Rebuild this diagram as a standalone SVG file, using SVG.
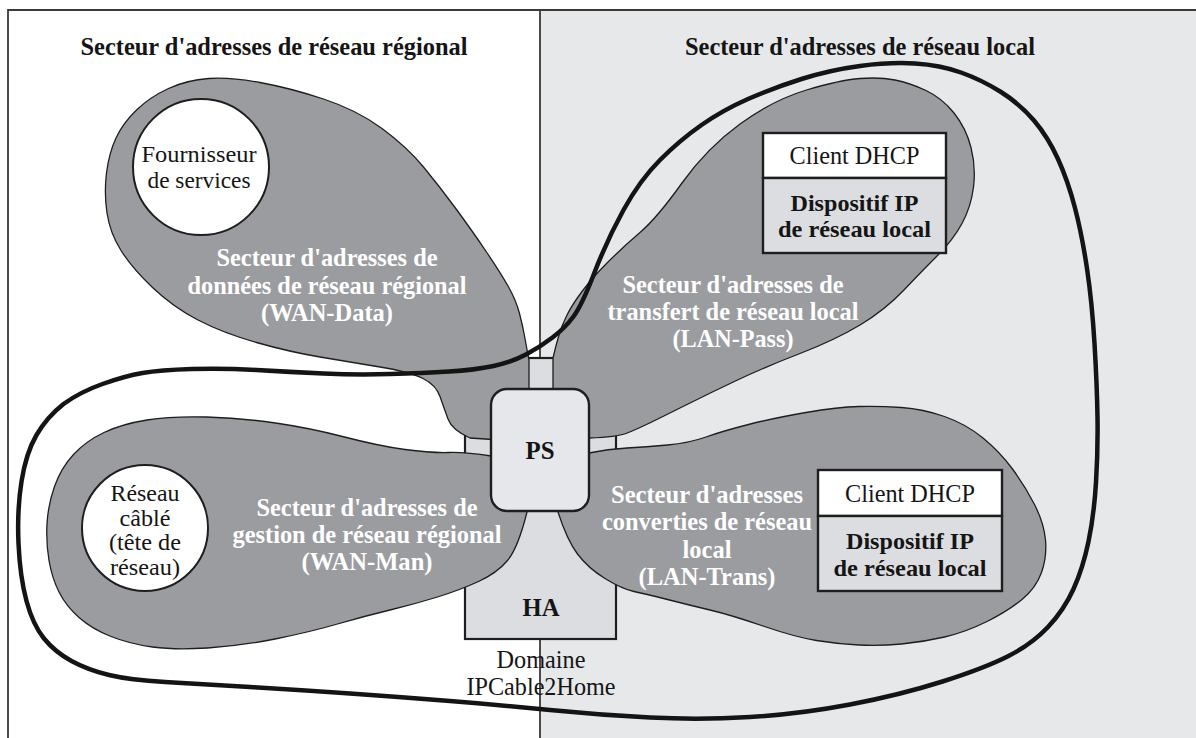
<svg xmlns="http://www.w3.org/2000/svg" width="1196" height="738" viewBox="0 0 1196 738">
<style>
.t{font-family:"Liberation Serif","Times New Roman",serif;font-size:26px;text-anchor:middle;fill:#151515}
.s{font-size:22.5px}
.m{font-size:24px}
.b{font-weight:bold}
.w{fill:#ffffff;font-weight:bold}
.petal{fill:#9b9ca0;stroke:#1e1e1e;stroke-width:1.3}
.ha{fill:#dcdde0;stroke:#1e1e1e;stroke-width:2.2}
.ps{fill:#e6e7ea;stroke:#1e1e1e;stroke-width:2.4}
.circ{fill:#ffffff;stroke:#1e1e1e;stroke-width:2}
.box{stroke:#1e1e1e;stroke-width:2.4}
.loop{fill:none;stroke:#141414;stroke-width:4.5;stroke-linejoin:round}
</style>
<rect x="0" y="0" width="1196" height="738" fill="#ffffff"/>
<rect x="540" y="10" width="660" height="730" fill="#e7e8ea"/>
<path d="M8,738 L8,10 L1196,10 M540,10 L540,738" fill="none" stroke="#3a3a3a" stroke-width="1.8"/>
<text class="t b" x="274" y="55" textLength="387" lengthAdjust="spacingAndGlyphs">Secteur d'adresses de réseau régional</text>
<text class="t b" x="860" y="55" textLength="350" lengthAdjust="spacingAndGlyphs">Secteur d'adresses de réseau local</text>
<g id="domain-label">
<text class="t" x="541" y="668" textLength="89" lengthAdjust="spacingAndGlyphs">Domaine</text>
<text class="t" x="541" y="695" textLength="149" lengthAdjust="spacingAndGlyphs">IPCable2Home</text>
</g>
<g id="HA">
<rect class="ha" x="465" y="358" width="151" height="281"/>
</g>
<g id="wan-data">
<path class="petal" d="M 470,438 Q 452,430 448,419 Q 444,408 440,396.5 Q 436,385 423,378.5 Q 410,372 380,367 Q 350,362 320,357 Q 290,352 256.5,342.5 Q 223,333 198,320 Q 173,307 152.5,287.5 Q 132,268 121,250.5 Q 110,233 107,213 Q 104,193 106.5,173 Q 109,153 116,138 Q 123,123 136.5,110 Q 150,97 168.5,88.5 Q 187,80 208.5,78.5 Q 230,77 260,82.5 Q 290,88 323.5,99 Q 357,110 382,128.5 Q 407,147 423.5,167 Q 440,187 456.5,209.5 Q 473,232 486.5,252 Q 500,272 508,286 Q 516,300 519.5,313.5 Q 523,327 525,338.5 Q 527,350 529,360 L 529,400 L 500,440 Z"/>
<circle class="circ" cx="201" cy="167" r="68"/>
<text class="t m" x="199" y="162" textLength="115" lengthAdjust="spacingAndGlyphs">Fournisseur</text>
<text class="t m" x="199" y="188" textLength="103" lengthAdjust="spacingAndGlyphs">de services</text>
<text class="t w" x="327" y="266" textLength="221" lengthAdjust="spacingAndGlyphs">Secteur d'adresses de</text>
<text class="t w" x="327" y="294" textLength="279" lengthAdjust="spacingAndGlyphs">données de réseau régional</text>
<text class="t w" x="327" y="321" textLength="132" lengthAdjust="spacingAndGlyphs">(WAN-Data)</text>
</g>
<g id="wan-man">
<path class="petal" d="M 491,456 Q 466,452 448.5,452.5 Q 431,453 405,449.5 Q 379,446 344.5,437 Q 310,428 275.5,423 Q 241,418 206.5,417 Q 172,416 147,420 Q 122,424 104,432.5 Q 86,441 73.5,454.5 Q 61,468 54.5,486.5 Q 48,505 47,524 Q 46,543 49,560.5 Q 52,578 59,592 Q 66,606 79,617.5 Q 92,629 111,636.5 Q 130,644 152.5,647 Q 175,650 207.5,648 Q 240,646 275,639 Q 310,632 337.5,624 Q 365,616 390,610 Q 415,604 437.5,597 Q 460,590 478.5,581.5 Q 497,573 507.5,560.5 Q 518,548 527,512 L 530,470 Z"/>
<circle class="circ" cx="145" cy="528" r="63"/>
<text class="t s" x="145" y="501" textLength="69" lengthAdjust="spacingAndGlyphs">Réseau</text>
<text class="t s" x="145" y="525.5" textLength="51" lengthAdjust="spacingAndGlyphs">câblé</text>
<text class="t s" x="145" y="550" textLength="72" lengthAdjust="spacingAndGlyphs">(tête de</text>
<text class="t s" x="145" y="574.5" textLength="70" lengthAdjust="spacingAndGlyphs">réseau)</text>
<text class="t w" x="367" y="516" textLength="221" lengthAdjust="spacingAndGlyphs">Secteur d'adresses de</text>
<text class="t w" x="367" y="543" textLength="269" lengthAdjust="spacingAndGlyphs">gestion de réseau régional</text>
<text class="t w" x="367" y="570" textLength="131" lengthAdjust="spacingAndGlyphs">(WAN-Man)</text>
</g>
<g id="lan-pass">
<path class="petal" d="M 553,392 L 553,358 Q 556,345 559,335 Q 562,325 567,315 Q 572,305 582,291.5 Q 592,278 607.5,262.5 Q 623,247 640,232.5 Q 657,218 682,183 Q 707,148 740,124 Q 773,100 806.5,90 Q 840,80 860,78.5 Q 880,77 895,80 Q 910,83 926,90.5 Q 942,98 954,113 Q 966,128 971,147.5 Q 976,167 973.5,187 Q 971,207 962,223.5 Q 953,240 938,255 Q 923,270 904,290 Q 885,310 860,325 Q 835,340 800,353.5 Q 765,367 737.5,380 Q 710,393 685,405.5 Q 660,418 647.5,424 Q 635,430 626,433.5 Q 617,437 589,438 L 575,420 Z"/>
<text class="t w" x="733" y="293" textLength="221" lengthAdjust="spacingAndGlyphs">Secteur d'adresses de</text>
<text class="t w" x="733" y="320" textLength="251" lengthAdjust="spacingAndGlyphs">transfert de réseau local</text>
<text class="t w" x="733" y="347" textLength="121" lengthAdjust="spacingAndGlyphs">(LAN-Pass)</text>
</g>
<g id="lan-trans">
<path class="petal" d="M 589,453 Q 608,449 627,448 Q 646,447 667.5,445 Q 689,443 706,437 Q 723,431 748.5,424.5 Q 774,418 806,412.5 Q 838,407 859,406.5 Q 880,406 901.5,407.5 Q 923,409 944.5,416.5 Q 966,424 983,438 Q 1000,452 1012.5,469 Q 1025,486 1034.5,504.5 Q 1044,523 1045.5,540 Q 1047,557 1041.5,572.5 Q 1036,588 1022,599.5 Q 1008,611 987,621.5 Q 966,632 944.5,637 Q 923,642 901.5,644 Q 880,646 859,645 Q 838,644 816.5,640.5 Q 795,637 763,626 Q 731,615 710,610 Q 689,605 667.5,599.5 Q 646,594 634,591.5 Q 622,589 605,578.5 Q 588,568 577.5,554 Q 567,540 558,512 L 570,480 Z"/>
<text class="t w" x="707" y="503" textLength="192" lengthAdjust="spacingAndGlyphs">Secteur d'adresses</text>
<text class="t w" x="707" y="530" textLength="210" lengthAdjust="spacingAndGlyphs">converties de réseau</text>
<text class="t w" x="707" y="558" textLength="49" lengthAdjust="spacingAndGlyphs">local</text>
<text class="t w" x="707" y="585" textLength="137" lengthAdjust="spacingAndGlyphs">(LAN-Trans)</text>
</g>
<g id="PS">
<rect class="ps" x="491" y="389" width="98" height="122" rx="16"/>
<text class="t b" x="540" y="459" textLength="29" lengthAdjust="spacingAndGlyphs">PS</text>
</g>
<g id="HA-label">
<text class="t b" x="541" y="616" textLength="37" lengthAdjust="spacingAndGlyphs">HA</text>
</g>
<g id="lan-device-1">
<rect class="box" x="763" y="133" width="183" height="45" fill="#ffffff"/>
<rect class="box" x="763" y="178" width="183" height="75" fill="#dcdde0"/>
<text class="t" x="854.5" y="164" textLength="130" lengthAdjust="spacingAndGlyphs">Client DHCP</text>
<text class="t b m" x="854.5" y="211" textLength="128" lengthAdjust="spacingAndGlyphs">Dispositif IP</text>
<text class="t b m" x="854.5" y="237" textLength="153" lengthAdjust="spacingAndGlyphs">de réseau local</text>
</g>
<g id="lan-device-2">
<rect class="box" x="818" y="470" width="184" height="46" fill="#ffffff"/>
<rect class="box" x="818" y="516" width="184" height="75" fill="#dcdde0"/>
<text class="t" x="910" y="502" textLength="130" lengthAdjust="spacingAndGlyphs">Client DHCP</text>
<text class="t b m" x="910" y="549" textLength="128" lengthAdjust="spacingAndGlyphs">Dispositif IP</text>
<text class="t b m" x="910" y="576" textLength="153" lengthAdjust="spacingAndGlyphs">de réseau local</text>
</g>
<g id="connectors">
<path class="loop" d="M 142.5,373 Q 160,370 191.5,369 Q 223,368 256.5,370 Q 290,372 323.5,373.5 Q 357,375 390,374 Q 423,373 449,371.5 Q 475,370 493.5,366 Q 512,362 526,354.5 Q 540,347 552.5,337.5 Q 565,328 573.5,316.5 Q 582,305 594.5,272.5 Q 607,240 623.5,210 Q 640,180 660,160 Q 680,140 701.5,125 Q 723,110 748,99 Q 773,88 801.5,79 Q 830,70 860,66 Q 890,62 915,63.5 Q 940,65 961,72.5 Q 982,80 1001,92 Q 1020,104 1034,120.5 Q 1048,137 1058,159 Q 1068,181 1075,208 Q 1082,235 1087,268.5 Q 1092,302 1094.5,343.5 Q 1097,385 1097.5,417.5 Q 1098,450 1096,482.5 Q 1094,515 1088.5,541.5 Q 1083,568 1073.5,589 Q 1064,610 1048,627 Q 1032,644 1008.5,656 Q 985,668 942.5,681.5 Q 900,695 850,704.5 Q 800,714 750,717 Q 700,720 650,717.5 Q 600,715 550,710 Q 500,705 450,701 Q 400,697 350,693.5 Q 300,690 250,687 Q 200,684 165,682 Q 130,680 109,675 Q 88,670 71.5,661 Q 55,652 44,638.5 Q 33,625 26.5,601 Q 20,577 18.5,543.5 Q 17,510 21.5,481.5 Q 26,453 36.5,435 Q 47,417 63.5,404 Q 80,392 102.5,384 Q 125,376 142.5,373 Z"/>
</g>
</svg>
